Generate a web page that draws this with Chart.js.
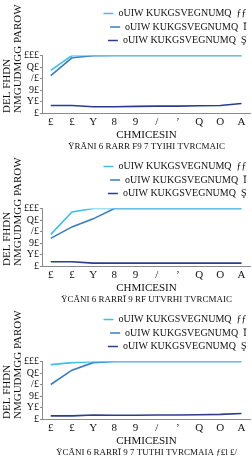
<!DOCTYPE html>
<html>
<head>
<meta charset="utf-8">
<script src="https://cdn.jsdelivr.net/npm/chart.js@4/dist/chart.umd.min.js"></script>
<style>
  html, body { margin: 0; padding: 0; background: #fff; }
  .panel { width: 252px; height: 153px; }
  canvas { display: block; }
</style>
</head>
<body>
<div class="panel"><canvas id="c1" width="252" height="153"></canvas></div>
<div class="panel"><canvas id="c2" width="252" height="153"></canvas></div>
<div class="panel"><canvas id="c3" width="252" height="153"></canvas></div>
<script>
const X_TICKS = ['£', '£', 'Y', '8', '9', '/', 'ʼ', 'Q', 'O', 'A'];
const Y_TICKS = ['£', 'Y£', '9£', '/£', 'Q£', '£££'];
const SERIES_NAMES = [
  'oUIW KUKGSVEGNUMQ  ƒƒ',
  'oUIW KUKGSVEGNUMQ  Ī',
  'oUIW KUKGSVEGNUMQ  Ş',
];
const Y_TITLE = ['DEL FHDN', 'NMGUDMGG PAROW'];
const X_TITLE = 'CHMICESIN';
const CAPTIONS = [
  'ŸRĀNI 6 RARR F9 7 TYIHI TVRCMAIC',
  'ŸCĀNI 6 RARRĪ 9 RF UTVRHI TVRCMAIC',
  'ŸCĀNI 6 RARRĪ 9 7 TUTHI TVRCMAIA ƒ£l £/',
];

// panel 1
const P1_A = [74, 100, 100, 100, 100, 100, 100, 100, 100, 100];
const P1_B = [65, 96, 99.5, 100, 100, 100, 100, 100, 100, 100];
const P1_C = [13, 13, 11, 11, 11.5, 12, 12, 12.5, 13, 16.5];
// panel 2
const P2_A = [55, 94, 100, 100, 100, 100, 100, 100, 100, 100];
const P2_B = [48, 68, 82, 100, 100, 100, 100, 100, 100, 100];
const P2_C = [7.5, 7.5, 5, 5, 5, 5, 5, 5, 5, 5];
// panel 3
const P3_A = [94.5, 98, 99.5, 100, 100, 100, 100, 100, 100, 100];
const P3_B = [60, 85, 98, 100, 100, 100, 100, 100, 100, 100];
const P3_C = [5.5, 5.5, 7, 6.5, 6.5, 7, 7, 7.5, 8, 9.5];

const COLORS = ['#3ec0ea', '#3a7cc2', '#2b3d8c'];
const FONT_FAMILY = "'Liberation Serif', 'Times New Roman', serif";
const AXIS_GREY = '#8a8a8a';
const INK = '#111';

function toPoints(values) {
  return values.map((v, i) => ({ x: i, y: v }));
}

function makePanel(canvasId, series, caption) {
  return new Chart(document.getElementById(canvasId), {
    type: 'line',
    data: {
      datasets: series.map((values, i) => ({
        label: SERIES_NAMES[i],
        data: toPoints(values),
        borderColor: COLORS[i],
        backgroundColor: COLORS[i],
        borderWidth: 1.6,
        pointRadius: 0,
        tension: 0,
      })),
    },
    options: {
      responsive: false,
      animation: false,
      devicePixelRatio: 1,
      layout: { padding: { left: 2, right: 2, top: 5, bottom: 1 } },
      plugins: {
        tooltip: { enabled: false },
        legend: {
          position: 'top',
          align: 'end',
          labels: {
            color: INK,
            font: { family: FONT_FAMILY, size: 10 },
            usePointStyle: true,
            pointStyle: 'line',
            pointStyleWidth: 10,
            padding: 3.5,
          },
        },
        // caption sits under the axis title, centred on the plot area
        title: {
          display: true,
          position: 'bottom',
          fullSize: false,
          text: caption,
          color: INK,
          font: { family: FONT_FAMILY, size: 9, weight: 'normal', lineHeight: 1.2 },
          padding: { top: 0, bottom: 0 },
        },
      },
      scales: {
        x: {
          type: 'linear',
          min: -0.37,
          max: 9.4,
          afterBuildTicks: (axis) => {
            axis.ticks = X_TICKS.map((_, i) => ({ value: i }));
          },
          ticks: {
            color: INK,
            font: { family: FONT_FAMILY, size: 11, lineHeight: 1.1 },
            padding: 1,
            maxRotation: 0,
            autoSkip: false,
            callback: (v) => X_TICKS[v],
          },
          grid: { display: false, drawTicks: true, tickLength: 2 },
          border: { display: true, color: AXIS_GREY },
          title: {
            display: true,
            text: X_TITLE,
            color: INK,
            font: { family: FONT_FAMILY, size: 11, lineHeight: 1.1 },
            padding: { top: 0, bottom: 0 },
          },
        },
        y: {
          min: 0,
          max: 100,
          ticks: {
            stepSize: 20,
            autoSkip: false,
            color: INK,
            font: { family: FONT_FAMILY, size: 10, lineHeight: 1 },
            padding: 1,
            callback: (v) => Y_TICKS[v / 20],
          },
          grid: { drawOnChartArea: false, drawTicks: true, tickLength: 3, color: AXIS_GREY },
          border: { display: true, color: AXIS_GREY },
          title: {
            display: true,
            text: Y_TITLE,
            align: 'start',
            color: INK,
            font: { family: FONT_FAMILY, size: 11, lineHeight: 0.95 },
            padding: 0,
          },
        },
      },
    },
  });
}

makePanel('c1', [P1_A, P1_B, P1_C], CAPTIONS[0]);
makePanel('c2', [P2_A, P2_B, P2_C], CAPTIONS[1]);
makePanel('c3', [P3_A, P3_B, P3_C], CAPTIONS[2]);
</script>
</body>
</html>
